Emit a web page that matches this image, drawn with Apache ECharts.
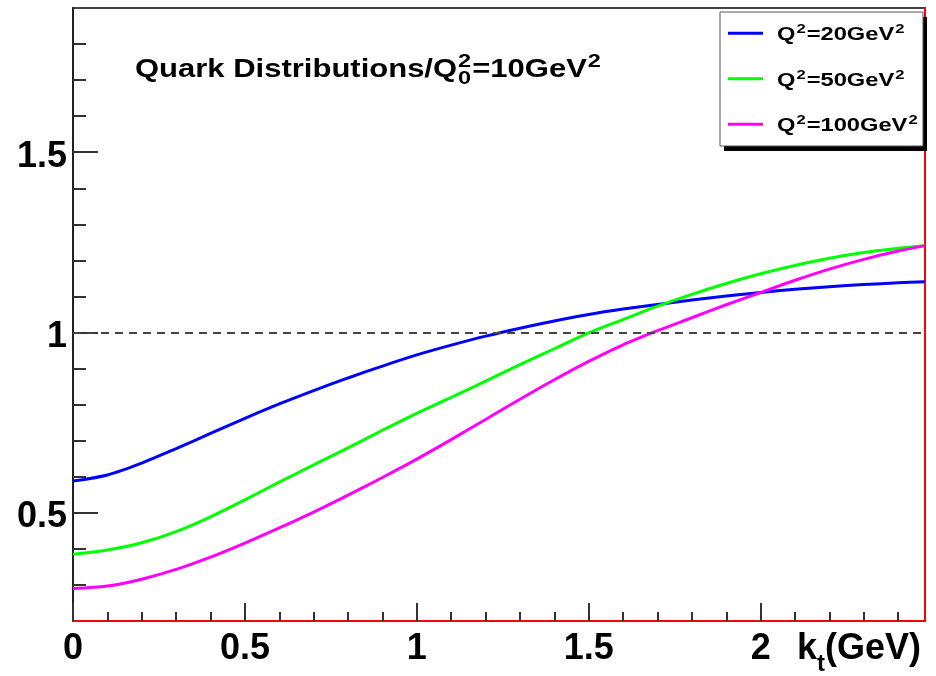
<!DOCTYPE html>
<html>
<head>
<meta charset="utf-8">
<script src="https://cdn.jsdelivr.net/npm/echarts@6/dist/echarts.min.js"></script>
<style>
    html, body {margin: 0; padding: 0; background: #fff;}
    #chart {width: 936px; height: 676px;}
</style>
</head>
<body>
<div id="chart"></div>
<script>
// kt values (GeV), every 0.1, last point is the frame edge
var kt = [0, 0.1, 0.2, 0.3, 0.4, 0.5, 0.6, 0.7, 0.8, 0.9, 1.0, 1.1, 1.2, 1.3, 1.4, 1.5, 1.6, 1.7, 1.8, 1.9, 2.0, 2.1, 2.2, 2.3, 2.4, 2.478];
var q20 = [0.588, 0.605, 0.638, 0.678, 0.72, 0.762, 0.802, 0.839, 0.874, 0.907, 0.938, 0.965, 0.99, 1.012, 1.032, 1.05, 1.065, 1.078, 1.09, 1.101, 1.111, 1.12, 1.127, 1.133, 1.138, 1.141];
var q50 = [0.385, 0.397, 0.417, 0.448, 0.489, 0.536, 0.585, 0.633, 0.68, 0.729, 0.776, 0.82, 0.865, 0.911, 0.955, 0.999, 1.036, 1.073, 1.106, 1.136, 1.163, 1.186, 1.206, 1.222, 1.234, 1.241];
var q100 = [0.29, 0.297, 0.316, 0.343, 0.377, 0.416, 0.458, 0.502, 0.549, 0.598, 0.649, 0.703, 0.759, 0.815, 0.869, 0.92, 0.966, 1.005, 1.041, 1.077, 1.111, 1.145, 1.176, 1.203, 1.226, 1.241];
var seriesNames = ['Q²=20GeV²', 'Q²=50GeV²', 'Q²=100GeV²'];
var seriesColors = ['#0000ff', '#00ff00', '#ff00ff'];

var xMajor = [0, 0.5, 1, 1.5, 2];
var xMinor = [0.1, 0.2, 0.3, 0.4, 0.6, 0.7, 0.8, 0.9, 1.1, 1.2, 1.3, 1.4, 1.6, 1.7, 1.8, 1.9, 2.1, 2.2, 2.3, 2.4];
var yMajor = [0.5, 1, 1.5];
var yMinor = [0.3, 0.4, 0.6, 0.7, 0.8, 0.9, 1.1, 1.2, 1.3, 1.4, 1.6, 1.7, 1.8];

var FONT = 'Liberation Sans, Arial, sans-serif';

// canvas measure, used to glue sub/superscript pieces
var mctx = document.createElement('canvas').getContext('2d');
function textWidth(txt, size, sx) {
    mctx.font = 'bold ' + size + 'px ' + FONT;
    return mctx.measureText(txt).width * (sx || 1);
}
// piece placed by its baseline (text drawn with middle baseline), sx = horizontal stretch
function piece(txt, x, baseline, size, sx) {
    return {
        type: 'text', z: 10, x: x, y: baseline - 0.35 * size, scaleX: sx || 1,
        style: {text: txt, fontSize: size, fontWeight: 'bold', fontFamily: FONT, fill: '#000', verticalAlign: 'middle'}
    };
}
// text with ^2 / _0 parts, e.g. [['Q'], ['2','0'], ['=10GeV'], ['2']]
function script(parts, x, baseline, big, small, sx, supUp, subDown) {
    var out = [];
    parts.forEach(function (p, i) {
        if (i % 2 === 0) {
            out.push(piece(p[0], x, baseline, big, sx));
            x += textWidth(p[0], big, sx);
        } else {
            out.push(piece(p[0], x + 1, baseline - supUp, small, sx));
            var w = textWidth(p[0], small, sx);
            if (p[1]) {
                out.push(piece(p[1], x + 1, baseline + subDown, small, sx));
                w = Math.max(w, textWidth(p[1], small, sx));
            }
            x += w + 2;
        }
    });
    return out;
}

function pairs(ys) {
    return kt.map(function (x, i) { return [x, ys[i]]; });
}

var graphics = [];
// title Quark Distributions/Q_0^2=10GeV^2
graphics = graphics.concat(script([['Quark Distributions/Q'], ['2', '0'], ['=10GeV'], ['2']], 135, 78.5, 25, 19, 1.24, 10, 7));

// x axis title k_t(GeV)
var nx = 797, nb = 662, nBig = 36, nSmall = 24;
graphics.push(piece('k', nx, nb, nBig));
nx += textWidth('k', nBig);
graphics.push(piece('t', nx, nb + 11, nSmall));
nx += textWidth('t', nSmall);
graphics.push(piece('(GeV)', nx, nb, nBig));

// legend box and its shadow
graphics.push({type: 'rect', z: 3, shape: {x: 724, y: 17, width: 203, height: 134}, style: {fill: '#000'}});
graphics.push({type: 'rect', z: 3, shape: {x: 720, y: 12, width: 203, height: 134}, style: {fill: '#fff', stroke: '#555', lineWidth: 1}});
// legend labels
var legendRows = [33.3, 79, 124.3];
seriesNames.forEach(function (name, i) {
    var bits = name.split('²');
    graphics = graphics.concat(script([[bits[0]], ['2'], [bits[1]], ['2']], 777, legendRows[i] + 8, 18.5, 13, 1.28, 7, 0));
});

var myChart = echarts.init(document.getElementById('chart'));

var series = [q20, q50, q100].map(function (ys, i) {
    var s = {
        name: seriesNames[i],
        type: 'line',
        smooth: 0.3,
        symbol: 'none',
        xAxisIndex: 0,
        yAxisIndex: 0,
        lineStyle: {color: seriesColors[i], width: 3},
        itemStyle: {color: seriesColors[i]},
        data: pairs(ys),
        z: 2
    };
    if (i === 0) {
        s.markLine = {
            silent: true,
            symbol: 'none',
            label: {show: false},
            lineStyle: {color: '#444', width: 2, type: [8, 6]},
            data: [{yAxis: 1}]
        };
    }
    return s;
});

var option = {
    animation: false,
    backgroundColor: '#fff',
    grid: {left: 73, top: 8, right: 11, bottom: 55, show: true, borderColor: '#444', borderWidth: 2},
    legend: {
        orient: 'vertical',
        left: 728,
        top: 23.3,
        padding: 0,
        itemGap: 25.5,
        itemWidth: 35,
        itemHeight: 3,
        icon: 'rect',
        z: 6,
        data: seriesNames,
        // labels are drawn as graphic text so the superscripts sit right
        formatter: function () { return ' '; },
        textStyle: {fontSize: 12, lineHeight: 20}
    },
    xAxis: [{
        type: 'value', min: 0, max: 2.478, position: 'bottom',
        axisLine: {show: true, lineStyle: {color: '#ff0000', width: 2}},
        axisTick: {show: true, inside: true, length: 18, customValues: xMajor, lineStyle: {color: '#333', width: 2}},
        axisLabel: {customValues: xMajor, margin: 10, fontSize: 36, fontWeight: 'bold', fontFamily: FONT, color: '#000'},
        splitLine: {show: false}
    }, {
        type: 'value', min: 0, max: 2.478, position: 'bottom',
        axisLine: {show: false},
        axisTick: {show: true, inside: true, length: 9, customValues: xMinor, lineStyle: {color: '#333', width: 2}},
        axisLabel: {show: false},
        splitLine: {show: false}
    }],
    yAxis: [{
        type: 'value', min: 0.2, max: 1.9, position: 'left',
        axisLine: {show: true, lineStyle: {color: '#222', width: 2}},
        axisTick: {show: true, inside: true, length: 25, customValues: yMajor, lineStyle: {color: '#333', width: 2}},
        axisLabel: {customValues: yMajor, margin: 6, verticalAlign: 'top', lineHeight: 9, fontSize: 36, fontWeight: 'bold', fontFamily: FONT, color: '#000'},
        splitLine: {show: false}
    }, {
        type: 'value', min: 0.2, max: 1.9, position: 'left',
        axisLine: {show: false},
        axisTick: {show: true, inside: true, length: 13, customValues: yMinor, lineStyle: {color: '#333', width: 2}},
        axisLabel: {show: false},
        splitLine: {show: false}
    }, {
        type: 'value', min: 0.2, max: 1.9, position: 'right',
        axisLine: {show: true, lineStyle: {color: '#ff0000', width: 2}},
        axisTick: {show: false},
        axisLabel: {show: false},
        splitLine: {show: false}
    }],
    graphic: graphics,
    series: series
};

myChart.setOption(option);
</script>
</body>
</html>
